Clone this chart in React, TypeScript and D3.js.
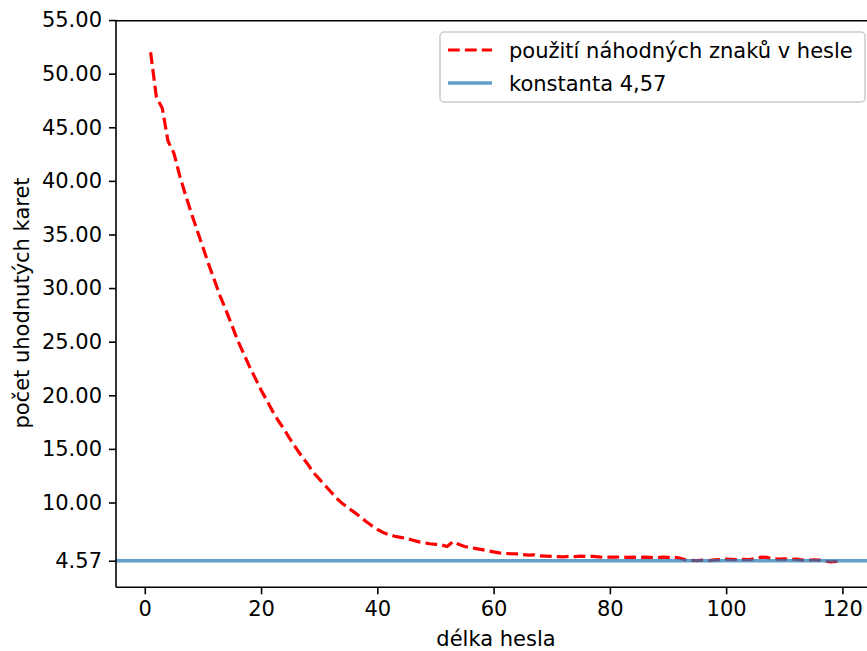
import React, { useEffect, useRef } from 'react';
import * as d3 from 'd3';

// délka hesla 1..120
const passwordLengths = d3.range(1, 121);

// průměrný počet uhodnutých karet
const randomCharGuesses = [
  52.0, 47.8, 46.8, 43.7, 42.6, 40.5, 38.7, 37.0, 35.4, 33.8,
  32.2, 30.7, 29.2, 27.9, 26.5, 25.1, 23.9, 22.7, 21.6, 20.5,
  19.5, 18.5, 17.6, 16.8, 15.9, 15.1, 14.3, 13.6, 12.8, 12.2,
  11.6, 11.0, 10.4, 9.9, 9.5, 9.1, 8.7, 8.25, 7.85, 7.5,
  7.2, 7.0, 6.85, 6.75, 6.65, 6.5, 6.35, 6.25, 6.15, 6.1,
  6.05, 5.9, 6.35, 6.1, 5.9, 5.8, 5.7, 5.6, 5.5, 5.4,
  5.3, 5.25, 5.22, 5.2, 5.15, 5.1, 5.12, 5.02, 5.0, 4.98,
  4.95, 4.92, 4.98, 4.95, 5.0, 4.96, 4.97, 4.92, 4.88, 4.9,
  4.9, 4.93, 4.88, 4.9, 4.87, 4.9, 4.88, 4.86, 4.9, 4.88,
  4.9, 4.82, 4.65, 4.6, 4.57, 4.62, 4.58, 4.64, 4.68, 4.72,
  4.7, 4.67, 4.7, 4.68, 4.78, 4.9, 4.88, 4.75, 4.72, 4.74,
  4.7, 4.72, 4.65, 4.6, 4.66, 4.62, 4.55, 4.45, 4.5, 4.62,
];

const constantValue = 4.57;

const xTicks = [0, 20, 40, 60, 80, 100, 120];
const yTicks = [4.57, 10, 15, 20, 25, 30, 35, 40, 45, 50, 55];

const seriesLabels = ['použití náhodných znaků v hesle', 'konstanta 4,57'];

const FONT = 'DejaVu Sans, sans-serif';
const FS = 21;

export default function App() {
  const svgRef = useRef<SVGSVGElement>(null);

  const width = 867;
  const height = 651;
  const margin = { top: 20.7, left: 116, right: 877, bottom: 587.3 };

  useEffect(() => {
    const svg = d3.select(svgRef.current);

    const xScale = d3
      .scaleLinear()
      .domain([-4.95, 125.95])
      .range([margin.left, margin.right]);
    const yScale = d3
      .scaleLinear()
      .domain([2.09, 54.94])
      .range([margin.bottom, margin.top]);

    const data = passwordLengths.map((x, i) => ({ x, y: randomCharGuesses[i] }));

    const line = d3
      .line<{ x: number; y: number }>()
      .x((d) => xScale(d.x))
      .y((d) => yScale(d.y));

    svg
      .select('.series')
      .selectAll('path')
      .data([data])
      .join('path')
      .attr('d', line)
      .attr('fill', 'none')
      .attr('stroke', '#ff0000')
      .attr('stroke-width', 3.2)
      .attr('stroke-dasharray', '11.8,5.1');

    svg
      .select('.constant')
      .selectAll('line')
      .data([constantValue])
      .join('line')
      .attr('x1', margin.left)
      .attr('x2', margin.right)
      .attr('y1', (d) => yScale(d))
      .attr('y2', (d) => yScale(d))
      .attr('stroke', '#1f77b4')
      .attr('stroke-opacity', 0.7)
      .attr('stroke-width', 3.4);

    svg
      .select('.x-axis')
      .attr('transform', `translate(0, ${margin.bottom})`)
      .call(
        d3
          .axisBottom(xScale)
          .tickValues(xTicks)
          .tickSize(7)
          .tickPadding(7)
          .tickFormat((d) => String(d))
      );

    svg
      .select('.y-axis')
      .attr('transform', `translate(${margin.left}, 0)`)
      .call(
        d3
          .axisLeft(yScale)
          .tickValues(yTicks)
          .tickSize(7)
          .tickPadding(7)
          .tickFormat((d) => (+d).toFixed(2))
      );

    svg.selectAll('.x-axis, .y-axis').select('path.domain').remove();
    svg
      .selectAll('.x-axis text, .y-axis text')
      .style('font-family', FONT)
      .style('font-size', `${FS}px`)
      .attr('fill', '#000');
    svg.selectAll('.x-axis line, .y-axis line').attr('stroke', '#000').attr('stroke-width', 1.6);
  }, []);

  return (
    <svg
      ref={svgRef}
      width={width}
      height={height}
      style={{ position: 'absolute', left: 0, top: 0, background: '#fff' }}
    >
      <rect width={width} height={height} fill='#fff' />
      <g className='series' />
      <g className='constant' />
      {/* spines */}
      <g stroke='#000' strokeWidth={1.6} fill='none'>
        <line x1={margin.left} x2={margin.left} y1={margin.top} y2={margin.bottom} />
        <line x1={margin.left} x2={margin.right} y1={margin.top} y2={margin.top} />
        <line x1={margin.left} x2={margin.right} y1={margin.bottom} y2={margin.bottom} />
        <line x1={margin.right} x2={margin.right} y1={margin.top} y2={margin.bottom} />
      </g>
      <g className='x-axis' />
      <g className='y-axis' />

      <text x={496} y={646} textAnchor='middle' fontFamily={FONT} fontSize={FS}>
        délka hesla
      </text>
      <text
        transform='translate(29, 303) rotate(-90)'
        textAnchor='middle'
        fontFamily={FONT}
        fontSize={FS}
      >
        počet uhodnutých karet
      </text>

      {/* legend */}
      <g>
        <rect
          x={440}
          y={32}
          width={425}
          height={70}
          rx={4}
          fill='#fff'
          fillOpacity={0.8}
          stroke='#cccccc'
          strokeWidth={1.5}
        />
        <line
          x1={448}
          x2={492}
          y1={50}
          y2={50}
          stroke='#ff0000'
          strokeWidth={3.2}
          strokeDasharray='11.8,5.1'
        />
        <text x={509} y={57.5} fontFamily={FONT} fontSize={FS}>
          {seriesLabels[0]}
        </text>
        <line
          x1={448}
          x2={492}
          y1={83}
          y2={83}
          stroke='#1f77b4'
          strokeOpacity={0.7}
          strokeWidth={3.4}
        />
        <text x={509} y={90.5} fontFamily={FONT} fontSize={FS}>
          {seriesLabels[1]}
        </text>
      </g>
    </svg>
  );
}
